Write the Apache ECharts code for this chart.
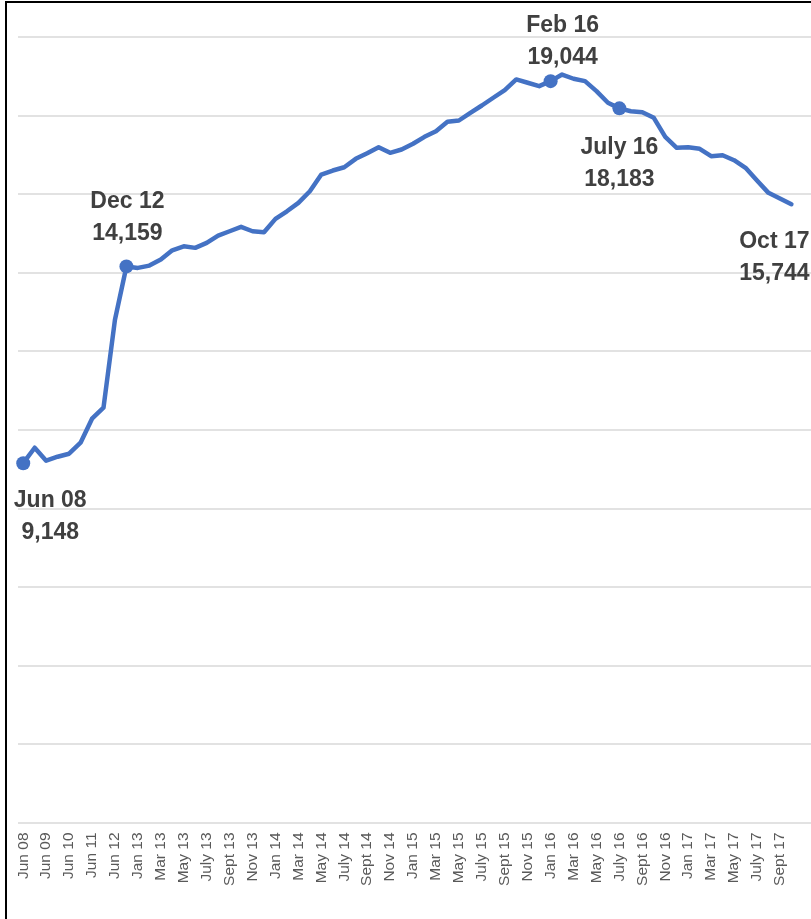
<!DOCTYPE html>
<html>
<head>
<meta charset="utf-8">
<script src="https://cdn.jsdelivr.net/npm/echarts@6/dist/echarts.min.js"></script>
<style>
  html, body { margin: 0; padding: 0; background: #fff; }
  #chart { position: absolute; left: 0; top: 0; width: 811px; height: 919px; }
  #frame {
    position: absolute; left: 5px; top: 1px; width: 820px; height: 940px;
    border-left: 2px solid #000; border-top: 2px solid #000; pointer-events: none;
  }
</style>
</head>
<body>
<div id="chart"></div>
<div id="frame"></div>
<script>
const categories = [
  "Jun 08", "Dec 08", "Jun 09", "Dec 09", "Jun 10", "Dec 10", "Jun 11", "Dec 11", "Jun 12", "Dec 12",
  "Jan 13", "Feb 13", "Mar 13", "Apr 13", "May 13", "Jun 13", "July 13", "Aug 13", "Sept 13", "Oct 13", "Nov 13", "Dec 13",
  "Jan 14", "Feb 14", "Mar 14", "Apr 14", "May 14", "Jun 14", "July 14", "Aug 14", "Sept 14", "Oct 14", "Nov 14", "Dec 14",
  "Jan 15", "Feb 15", "Mar 15", "Apr 15", "May 15", "Jun 15", "July 15", "Aug 15", "Sept 15", "Oct 15", "Nov 15", "Dec 15",
  "Jan 16", "Feb 16", "Mar 16", "Apr 16", "May 16", "Jun 16", "July 16", "Aug 16", "Sept 16", "Oct 16", "Nov 16", "Dec 16",
  "Jan 17", "Feb 17", "Mar 17", "Apr 17", "May 17", "Jun 17", "July 17", "Aug 17", "Sept 17", "Oct 17",
];
const values = [
  9148, 9542, 9211, 9313, 9390, 9670, 10281, 10561, 12800, 14159,
  14121, 14180, 14332, 14569, 14671, 14631, 14758, 14944, 15054, 15166, 15054, 15028,
  15370, 15563, 15777, 16073, 16498, 16600, 16684, 16898, 17040, 17194, 17051, 17135,
  17281, 17459, 17602, 17841, 17874, 18070, 18256, 18453, 18646, 18919, 18835, 18748,
  18876, 19044, 18937, 18876, 18621, 18325, 18183, 18111, 18086, 17943, 17459, 17179,
  17194, 17153, 16965, 16990, 16863, 16669, 16345, 16032, 15887, 15744,
];
// annotated points
const noteIndex = [0, 9, 46, 52, 67];
const noteName = ["Jun 08", "Dec 12", "Feb 16", "July 16", "Oct 17"];
const noteValue = ["9,148", "14,159", "19,044", "18,183", "15,744"];
const yTicks = [0, 20000, 2000]; // min, max, step (labels hidden)

const lineColor = "#4472C4";
const notePlace = [
  { position: "bottom", distance: 14, offset: [27, 0], size: 14 },
  { position: "top", distance: 10, offset: [1, 0], size: 14 },
  { position: "top", distance: 0, offset: [12, 0], size: 14 },
  { position: "bottom", distance: 16, offset: [0, 0], size: 14 },
  { position: "bottom", distance: 22, offset: [-17, 0], size: 0 },
];

const plotTop = 37;
const plotHeight = 785.5;
const catWidth = 11.465;

let myChart = echarts.init(document.getElementById("chart"));
myChart.setOption({
  animation: false,
  grid: [
    { left: 17.5, top: plotTop, width: catWidth * categories.length, height: plotHeight },
    { left: 18, top: plotTop, right: 0, height: plotHeight }, // gridlines only
  ],
  xAxis: [
    {
      type: "category",
      gridIndex: 0,
      data: categories,
      boundaryGap: true,
      axisLine: { show: false },
      axisTick: { show: false },
      axisLabel: {
        interval: 1,
        rotate: 90,
        margin: 10,
        color: "#595959",
        fontSize: 15.5,
        fontFamily: "Liberation Sans",
      },
    },
    {
      type: "value",
      gridIndex: 1,
      min: 0,
      max: 1,
      show: false,
    },
  ],
  yAxis: [
    {
      type: "value",
      gridIndex: 0,
      min: yTicks[0],
      max: yTicks[1],
      interval: yTicks[2],
      show: false,
      splitLine: { show: false },
    },
    {
      type: "value",
      gridIndex: 1,
      min: yTicks[0],
      max: yTicks[1],
      interval: yTicks[2],
      axisLine: { show: false },
      axisTick: { show: false },
      axisLabel: { show: false },
      splitLine: { lineStyle: { color: "#d9d9d9", width: 1.5 } },
    },
  ],
  series: [
    {
      type: "line",
      xAxisIndex: 0,
      yAxisIndex: 0,
      data: values,
      symbol: "none",
      lineStyle: { color: lineColor, width: 4.5, cap: "round", join: "round" },
      markPoint: {
        symbol: "circle",
        itemStyle: { color: lineColor },
        label: {
          color: "#404040",
          fontSize: 23,
          fontWeight: "bold",
          fontFamily: "Liberation Sans",
          lineHeight: 32,
          align: "center",
        },
        data: noteIndex.map((idx, i) => ({
          coord: [categories[idx], values[idx]],
          symbolSize: notePlace[i].size,
          label: {
            position: notePlace[i].position,
            distance: notePlace[i].distance,
            offset: notePlace[i].offset,
            formatter: noteName[i] + "\n" + noteValue[i],
          },
        })),
      },
    },
  ],
});
</script>
</body>
</html>
